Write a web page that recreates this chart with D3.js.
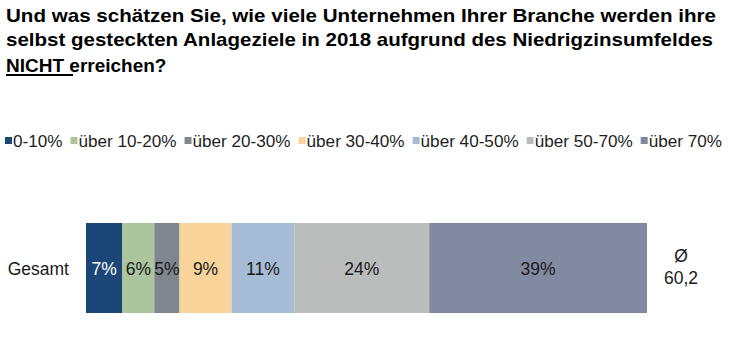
<!DOCTYPE html>
<html lang="de">
<head>
  <meta charset="UTF-8" />
  <title>Anlageziele 2018</title>
  <script src="https://d3js.org/d3.v7.min.js"></script>
  <style>
    html, body { margin: 0; padding: 0; background: #fff; }
    svg { display: block; font-family: "Liberation Sans", Arial, sans-serif; }
  </style>
</head>
<body>
  <svg id="chart"></svg>
  <script>
    // Data
    const titleLines = [
      "Und was schätzen Sie, wie viele Unternehmen Ihrer Branche werden ihre",
      "selbst gesteckten Anlageziele in 2018 aufgrund des Niedrigzinsumfeldes",
      "erreichen?"
    ];
    const categories = ["0-10%", "über 10-20%", "über 20-30%", "über 30-40%", "über 40-50%", "über 50-70%", "über 70%"];
    const rowLabel = "Gesamt";
    // shares (labels are rounded)
    const shares = [6.5, 5.7, 4.5, 9.3, 11.2, 24.1, 38.9];
    const average = "60,2";
    const colors = ["#1b4677", "#abc59f", "#80868e", "#f8d49a", "#a6bbd6", "#bbbcbc", "#828aa2"];
    const labelColors = ["#fff", "#1a1a1a", "#1a1a1a", "#1a1a1a", "#1a1a1a", "#1a1a1a", "#1a1a1a"];

    const W = 730, H = 352;
    const svg = d3.select("#chart").attr("width", W).attr("height", H);

    // Title
    const title = svg.append("g").attr("font-weight", "bold").attr("font-size", 19).attr("fill", "#000");
    title.append("text").attr("x", 6).attr("y", 22)
      .attr("textLength", 710).attr("lengthAdjust", "spacingAndGlyphs").text(titleLines[0]);
    title.append("text").attr("x", 6).attr("y", 46)
      .attr("textLength", 707).attr("lengthAdjust", "spacingAndGlyphs").text(titleLines[1]);
    const l3 = title.append("text").attr("x", 6).attr("y", 72);
    l3.append("tspan").text("NICHT ");
    l3.append("tspan").text(titleLines[2]);
    title.append("rect").attr("x", 6).attr("y", 74).attr("width", 67).attr("height", 2).attr("fill", "#000");

    // Legend (text drawn a bit wider, like the original)
    const legend = svg.append("g").attr("font-size", 16).attr("fill", "#1e1e1e");
    let lx = 5;
    categories.forEach((c, i) => {
      legend.append("rect").attr("x", lx).attr("y", 137).attr("width", 7).attr("height", 7).attr("fill", colors[i]);
      const t = legend.append("text").attr("x", lx + 8).attr("y", 146.5).text(c);
      const w = t.node().getComputedTextLength() * 1.07;
      t.attr("textLength", w).attr("lengthAdjust", "spacingAndGlyphs");
      lx += 8 + w + 8;
    });

    // Bar
    const x = d3.scaleLinear().domain([0, d3.sum(shares)]).range([86, 647]);
    const y = d3.scaleBand().domain([rowLabel]).range([223, 313]).padding(0);
    const ends = d3.cumsum(shares);
    const segs = shares.map((v, i) => ({ v, i, x0: ends[i] - v, x1: ends[i] }));

    svg.append("g").selectAll("rect").data(segs).join("rect")
      .attr("x", d => x(d.x0)).attr("y", y(rowLabel))
      .attr("width", d => x(d.x1) - x(d.x0)).attr("height", y.bandwidth())
      .attr("fill", d => colors[d.i]);

    const cy = y(rowLabel) + y.bandwidth() / 2;
    svg.append("g").attr("font-size", 17.5).attr("text-anchor", "middle")
      .selectAll("text").data(segs).join("text")
      .attr("x", d => (x(d.x0) + x(d.x1)) / 2).attr("y", cy + 7)
      .attr("fill", d => labelColors[d.i])
      .text(d => Math.round(d.v) + "%");

    svg.append("text").attr("x", 69).attr("y", cy + 7).attr("text-anchor", "end")
      .attr("font-size", 17.5).attr("fill", "#1a1a1a").text(rowLabel);

    // Average
    const avg = svg.append("g").attr("font-size", 17.5).attr("fill", "#1a1a1a").attr("text-anchor", "middle");
    avg.append("text").attr("x", 681).attr("y", 262).text("Ø");
    avg.append("text").attr("x", 681).attr("y", 284).text(average);
  </script>
</body>
</html>
